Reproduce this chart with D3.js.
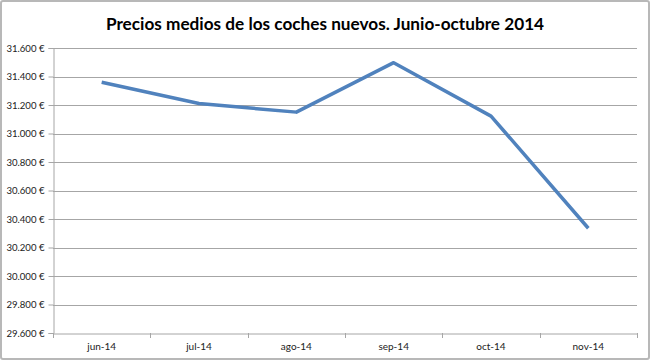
<!DOCTYPE html>
<html><head><meta charset="utf-8">
<script src="https://cdn.jsdelivr.net/npm/d3@7"></script>
<style>body{margin:0;background:#fff}svg{display:block}</style>
</head><body>
<svg id="c" width="650" height="360"></svg>
<script>
const categories = ["jun-14","jul-14","ago-14","sep-14","oct-14","nov-14"];
const prices = [31360, 31210, 31150, 31497, 31122, 30335];
const yTicks = [29600,29800,30000,30200,30400,30600,30800,31000,31200,31400,31600];
const title = "Precios medios de los coches nuevos. Junio-octubre 2014";

(function(){
const svg = d3.select("#c");
const font = "Lato, 'Open Sans', sans-serif";
svg.append("rect").attr("x",1).attr("y",1).attr("width",648).attr("height",358)
  .attr("fill","#fff").attr("stroke","#b8b8b8").attr("stroke-width",2).attr("rx",2);

const pl = 53, pr = 637, pt = 48, pb = 333;
const x = d3.scaleBand().domain(categories).range([pl, pr]);
const y = d3.scaleLinear().domain([29600, 31600]).range([pb, pt]);

svg.append("text").attr("x", 325).attr("y", 30).attr("text-anchor","middle")
  .attr("font-family", font).attr("font-weight","bold").attr("font-size", 17.2)
  .attr("fill","#000").text(title);

svg.append("g").selectAll("line").data(yTicks.slice(1)).join("line")
  .attr("x1", pl).attr("x2", pr)
  .attr("y1", d => Math.round(y(d))+0.5).attr("y2", d => Math.round(y(d))+0.5)
  .attr("stroke","#a6a6a6").attr("stroke-width",1);

const fmt = d => d3.format(",")(d).replace(/,/g,".") + " €";
const ya = svg.append("g").attr("transform",`translate(${pl+0.5},0)`)
  .call(d3.axisLeft(y).tickValues(yTicks).tickSize(5).tickPadding(4).tickFormat(fmt));
ya.select(".domain").attr("stroke","#a6a6a6");
ya.selectAll(".tick line").attr("stroke","#a6a6a6");
ya.selectAll(".tick text").attr("font-family", font).attr("font-size", 9.6).attr("fill","#222");

const xa = svg.append("g").attr("transform",`translate(0,${pb+0.5})`)
  .call(d3.axisBottom(x).tickSize(0).tickPadding(9));
xa.select(".domain").attr("stroke","#a6a6a6");
xa.selectAll(".tick text").attr("font-family", font).attr("font-size", 10).attr("fill","#222");
const bounds = categories.map(c => x(c)).concat([x(categories[categories.length-1]) + x.bandwidth()]);
svg.append("g").selectAll("line").data(bounds).join("line")
  .attr("x1", d => Math.round(d)+0.5).attr("x2", d => Math.round(d)+0.5)
  .attr("y1", pb).attr("y2", pb+5).attr("stroke","#a6a6a6");

const line = d3.line().x((d,i) => x(categories[i]) + x.bandwidth()/2).y(d => y(d));
svg.append("path").datum(prices).attr("d", line).attr("fill","none")
  .attr("stroke","#5082bd").attr("stroke-width",3.5).attr("stroke-linejoin","round");
})();
</script>
</body></html>
